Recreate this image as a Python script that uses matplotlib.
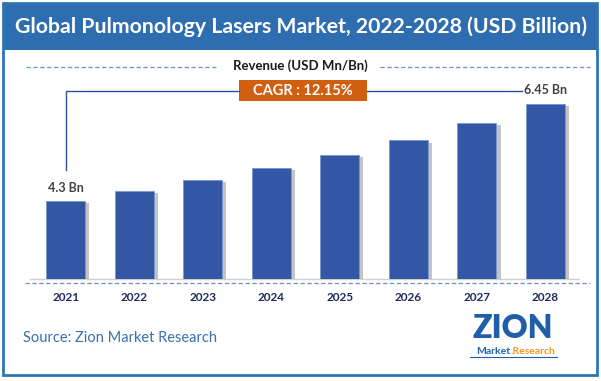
import matplotlib
matplotlib.use("Agg")
import matplotlib.pyplot as plt
from matplotlib.patches import Rectangle
from matplotlib.lines import Line2D
from matplotlib.transforms import Affine2D
import matplotlib.patheffects as pe

plt.rcParams['font.family'] = ['Lato', 'DejaVu Sans']

# data
years = ['2021', '2022', '2023', '2024', '2025', '2026', '2027', '2028']
revenue = [4.30, 4.51, 4.76, 5.02, 5.31, 5.64, 6.03, 6.45]
first_label = '4.3 Bn'
last_label = '6.45 Bn'
cagr_text = 'CAGR : 12.15%'
title = 'Global Pulmonology Lasers Market, 2022-2028 (USD Billion)'
subtitle = 'Revenue (USD Mn/Bn)'
source = 'Source: Zion Market Research'

W, H = 601, 381
fig = plt.figure(figsize=(W / 100, H / 100), dpi=100)
# pixel coords (origin top-left) -> figure
pix = Affine2D().scale(1 / W, -1 / H).translate(0, 1) + fig.transFigure

# outer frame + title bar
fig.patches.append(Rectangle((3, 3), 594, 47, transform=pix, facecolor='#2e6db0',
                             edgecolor='none', zorder=0))
fig.patches.append(Rectangle((2.5, 2.5), 594, 372, transform=pix, facecolor='none',
                             edgecolor='#2e75b6', lw=2, zorder=5))
fig.text(301, 27, title, transform=pix, ha='center', va='center', color='white',
         fontsize=15.3, fontweight='bold')

# subtitle with dashed rules
fig.text(300, 66, subtitle, transform=pix, ha='center', va='center', color='#1a1a1a',
         fontsize=9.5, fontweight='bold')
for x0, x1 in [(26, 217), (380, 590)]:
    fig.lines.append(Line2D([x0, x1], [67, 67], transform=pix, color='#6a92d0',
                            lw=0.9, ls=(0, (3.5, 2))))

# bar chart
ax = fig.add_axes([30 / W, (H - 279.3) / H, 549 / W, 184.3 / H])
x = range(len(years))
bars = ax.bar(x, revenue, width=0.57, color='#3357a5', edgecolor='#7a96d2', lw=0.6,
              zorder=3)
for b in bars:
    b.set_path_effects([pe.SimplePatchShadow(offset=(3, -1.5), shadow_rgbFace='#8a8a8a',
                                             alpha=0.5), pe.Normal()])
ax.set_xlim(-0.52, 7.49)
ax.set_ylim(2.553, 6.65)
ax.set_yticks([])
ax.set_xticks(list(x))
ax.set_xticklabels(years, fontsize=8.5, fontweight='bold', color='#1f2a5c')
ax.tick_params(axis='x', length=0, pad=9)
for s in ['top', 'left', 'right']:
    ax.spines[s].set_visible(False)
ax.spines['bottom'].set_color('#d0d0d0')
ax.spines['bottom'].set_linewidth(1)
fig.lines.append(Line2D([25, 590], [283, 283], transform=pix, color='#6a92d0',
                        lw=0.9, ls=(0, (3.5, 2))))

# data labels and CAGR connector
fig.canvas.draw()
to_pix = lambda xd, yd: (ax.transData + pix.inverted()).transform((xd, yd))
x0, y0 = to_pix(0, revenue[0])
x7, y7 = to_pix(7, revenue[-1])
fig.text(x0, y0 - 13, first_label, transform=pix, ha='center', va='center',
         color='#404040', fontsize=9, fontweight='bold')
box_l, box_r, box_t, box_b = 239, 367, 80, 101
line_y = (box_t + box_b) / 2
fig.lines.append(Line2D([x0, x0, box_l], [y0 - 31, line_y, line_y], transform=pix,
                        color='#2f4f9f', lw=1))
fig.lines.append(Line2D([box_r, x7 - 23], [line_y, line_y], transform=pix,
                        color='#2f4f9f', lw=1))
fig.text(x7 - 21, line_y, last_label, transform=pix, ha='left', va='center',
         color='#404040', fontsize=9, fontweight='bold')
fig.patches.append(Rectangle((box_l, box_t), box_r - box_l, box_b - box_t, transform=pix,
                             facecolor='#d0600f', edgecolor='none'))
fig.text((box_l + box_r) / 2, line_y + 0.5, cagr_text, transform=pix, ha='center',
         va='center', color='white', fontsize=10.5, fontweight='bold')

# source + logo
fig.text(23, 338, source, transform=pix, ha='left', va='center', color='#3a6fb0',
         fontsize=10.5)
fig.text(513, 328, 'ZION', transform=pix, ha='center', va='center', color='#1f5fa8',
         fontsize=23, fontweight='heavy')
fig.text(493, 351, 'Market', transform=pix, ha='center', va='center', color='#1f5fa8',
         fontsize=7.5, fontweight='bold')
fig.text(533, 351, '.Research', transform=pix, ha='center', va='center', color='#f0961e',
         fontsize=7.5, fontweight='bold')
fig.lines.append(Line2D([470, 557], [357, 357], transform=pix, color='#1f5fa8', lw=0.8))

fig.savefig('out.png', dpi=100)
